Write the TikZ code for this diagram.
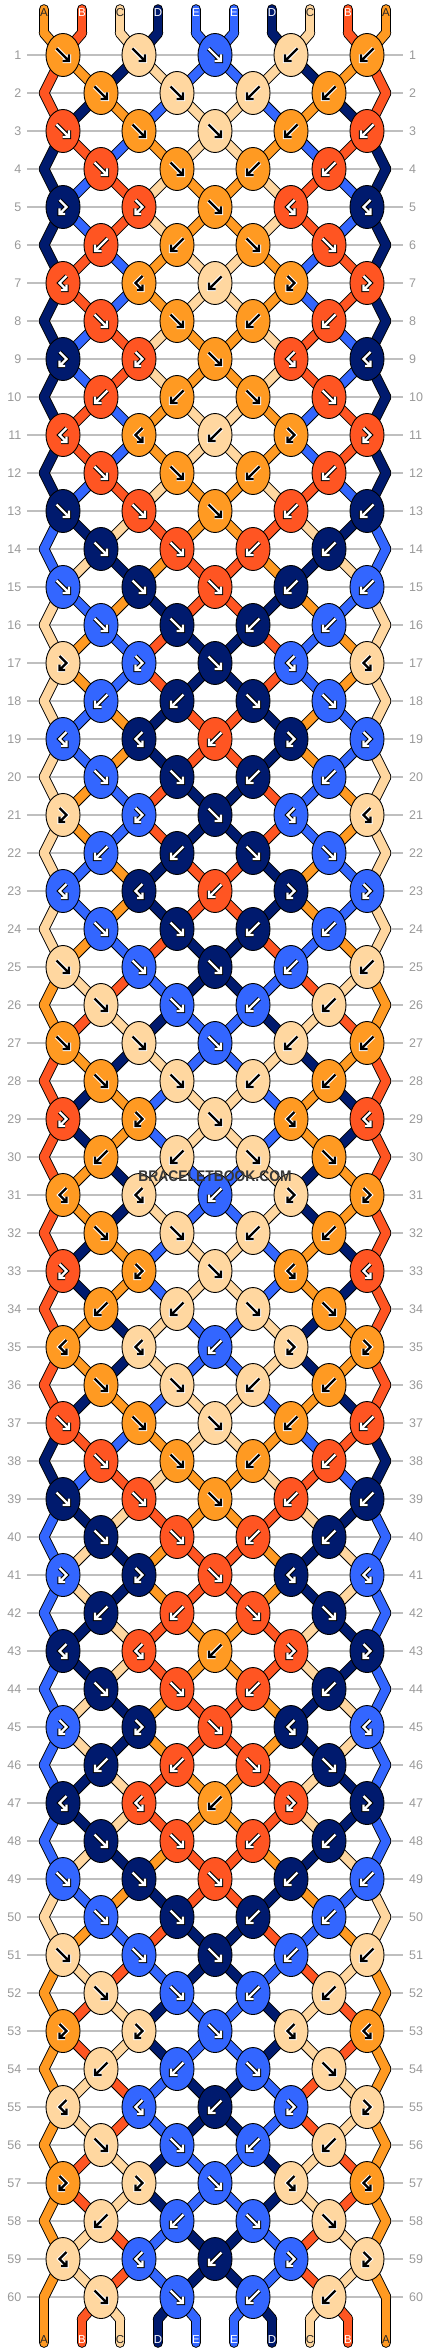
\documentclass[tikz,border=0pt]{standalone}
\usepackage{fontspec}
\setmainfont{Liberation Sans}
\usetikzlibrary{shapes.geometric}
\definecolor{cA}{HTML}{FF9A22}
\definecolor{cB}{HTML}{FF5522}
\definecolor{cC}{HTML}{FFD7A0}
\definecolor{cD}{HTML}{001A6E}
\definecolor{cE}{HTML}{3366FF}
\colorlet{arA}{black}\colorlet{aoA}{white}\colorlet{tA}{black!85}
\colorlet{arB}{white}\colorlet{aoB}{black}\colorlet{tB}{white}
\colorlet{arC}{black}\colorlet{aoC}{white}\colorlet{tC}{black!85}
\colorlet{arD}{white}\colorlet{aoD}{black}\colorlet{tD}{white}
\colorlet{arE}{white}\colorlet{aoE}{black}\colorlet{tE}{white}
% arrow glyphs: straight forward knot, forward-backward knot
\def\glyphf{(-6.5,-6.5)--(6,6) (-0.5,6)--(6,6)--(6,-0.5)}
\def\glyphr{(-3.5,-7)--(3.5,0)--(-3.5,7) (2,7)--(-3.5,7)--(-3.5,1.5)}
% left half of the strings after each row
\def\states{0/{A,B,C,D,E},1/{B,A,D,C,E},2/{B,D,A,E,C},3/{D,B,E,A,C},4/{D,E,B,C,A},5/{D,E,B,C,A},6/{D,B,E,A,C},7/{D,B,E,A,C},8/{D,E,B,C,A},9/{D,E,B,C,A},10/{D,B,E,A,C},11/{D,B,E,A,C},12/{D,E,B,C,A},13/{E,D,C,B,A},14/{E,C,D,A,B},15/{C,E,A,D,B},16/{C,A,E,B,D},17/{C,A,E,B,D},18/{C,E,A,D,B},19/{C,E,A,D,B},20/{C,A,E,B,D},21/{C,A,E,B,D},22/{C,E,A,D,B},23/{C,E,A,D,B},24/{C,A,E,B,D},25/{A,C,B,E,D},26/{A,B,C,D,E},27/{B,A,D,C,E},28/{B,D,A,E,C},29/{B,D,A,E,C},30/{B,A,D,C,E},31/{B,A,D,C,E},32/{B,D,A,E,C},33/{B,D,A,E,C},34/{B,A,D,C,E},35/{B,A,D,C,E},36/{B,D,A,E,C},37/{D,B,E,A,C},38/{D,E,B,C,A},39/{E,D,C,B,A},40/{E,C,D,A,B},41/{E,C,D,A,B},42/{E,D,C,B,A},43/{E,D,C,B,A},44/{E,C,D,A,B},45/{E,C,D,A,B},46/{E,D,C,B,A},47/{E,D,C,B,A},48/{E,C,D,A,B},49/{C,E,A,D,B},50/{C,A,E,B,D},51/{A,C,B,E,D},52/{A,B,C,D,E},53/{A,B,C,D,E},54/{A,C,B,E,D},55/{A,C,B,E,D},56/{A,B,C,D,E},57/{A,B,C,D,E},58/{A,C,B,E,D},59/{A,C,B,E,D},60/{A,B,C,D,E}}
% knots of the left half and centre: colour/glyph/direction
\def\knots{1/{A/f/1,C/f/1,E/f/1},2/{A/f/1,C/f/1},3/{B/f/1,A/f/1,C/f/1},4/{B/f/1,A/f/1},5/{D/r/1,B/r/1,A/f/1},6/{B/f/-1,A/f/-1},7/{B/r/-1,A/r/-1,C/f/-1},8/{B/f/1,A/f/1},9/{D/r/1,B/r/1,A/f/1},10/{B/f/-1,A/f/-1},11/{B/r/-1,A/r/-1,C/f/-1},12/{B/f/1,A/f/1},13/{D/f/1,B/f/1,A/f/1},14/{D/f/1,B/f/1},15/{E/f/1,D/f/1,B/f/1},16/{E/f/1,D/f/1},17/{C/r/1,E/r/1,D/f/1},18/{E/f/-1,D/f/-1},19/{E/r/-1,D/r/-1,B/f/-1},20/{E/f/1,D/f/1},21/{C/r/1,E/r/1,D/f/1},22/{E/f/-1,D/f/-1},23/{E/r/-1,D/r/-1,B/f/-1},24/{E/f/1,D/f/1},25/{C/f/1,E/f/1,D/f/1},26/{C/f/1,E/f/1},27/{A/f/1,C/f/1,E/f/1},28/{A/f/1,C/f/1},29/{B/r/1,A/r/1,C/f/1},30/{A/f/-1,C/f/-1},31/{A/r/-1,C/r/-1,E/f/-1},32/{A/f/1,C/f/1},33/{B/r/1,A/r/1,C/f/1},34/{A/f/-1,C/f/-1},35/{A/r/-1,C/r/-1,E/f/-1},36/{A/f/1,C/f/1},37/{B/f/1,A/f/1,C/f/1},38/{B/f/1,A/f/1},39/{D/f/1,B/f/1,A/f/1},40/{D/f/1,B/f/1},41/{E/r/1,D/r/1,B/f/1},42/{D/f/-1,B/f/-1},43/{D/r/-1,B/r/-1,A/f/-1},44/{D/f/1,B/f/1},45/{E/r/1,D/r/1,B/f/1},46/{D/f/-1,B/f/-1},47/{D/r/-1,B/r/-1,A/f/-1},48/{D/f/1,B/f/1},49/{E/f/1,D/f/1,B/f/1},50/{E/f/1,D/f/1},51/{C/f/1,E/f/1,D/f/1},52/{C/f/1,E/f/1},53/{A/r/1,C/r/1,E/f/1},54/{C/f/-1,E/f/-1},55/{C/r/-1,E/r/-1,D/f/-1},56/{C/f/1,E/f/1},57/{A/r/1,C/r/1,E/f/1},58/{C/f/-1,E/f/-1},59/{C/r/-1,E/r/-1,D/f/-1},60/{C/f/1,E/f/1}}
\tikzset{
  knot/.style={ellipse,draw=black,line width=.9pt,minimum width=34pt,minimum height=43pt,inner sep=0pt},
  glyphrim/.style={line width=4.4pt,line cap=square,line join=miter},
  glyphline/.style={line width=2.3pt,line join=miter},
  rowno/.style={text=gray!80,font=\fontsize{12.5}{14}\selectfont,inner sep=0pt},
  strandlbl/.style={font=\fontsize{11.5}{13}\selectfont,inner sep=0pt}
}
\begin{document}
\begin{tikzpicture}[x=1pt,y=-1pt]
\useasboundingbox (0,0) rectangle (430,2352);
\foreach \r in {1,...,60}{\pgfmathsetmacro\y{55+38*(\r-1)}
\draw[gray!50,line width=1.1pt] (27,\y)--(403,\y);
\node[rowno,anchor=east] (nl\r) at (21.5,\y) {\r};\node[rowno,anchor=west] (nr\r) at (409,\y) {\r};}
% points of the strings
\foreach \p in {1,...,10}{\pgfmathsetmacro\x{44+38*(\p-1)}
\coordinate (t-\p) at (\x,9.5);\coordinate (s0-\p) at (\x,33);\coordinate (s61-\p) at (\x,2319);\coordinate (u-\p) at (\x,2342.5);
\foreach \r in {1,...,60}{\pgfmathsetmacro\y{55+38*(\r-1)}
\ifodd\r\relax\pgfmathsetmacro\xx{63+76*floor((\p-1)/2)}\else
\ifnum\p=1\relax\def\xx{44}\else\ifnum\p=10\relax\def\xx{386}\else\pgfmathsetmacro\xx{101+76*floor((\p-2)/2)}\fi\fi\fi
\coordinate (s\r-\p) at (\xx,\y);}}
% strings: black rim first, then colour
\foreach \w/\ps in {10.6pt/1,8.8pt/0}{
\foreach \c [count=\p] in {A,B,C,D,E}{\pgfmathtruncatemacro\q{11-\p}
\ifnum\ps=1\relax\def\col{black}\else\def\col{c\c}\fi
\draw[line width=\w,line cap=round,draw=\col] (t-\p)--(s0-\p) (t-\q)--(s0-\q) (s61-\p)--(u-\p) (s61-\q)--(u-\q);}
\foreach \r/\st in \states{\pgfmathtruncatemacro\rr{\r+1}
\foreach \c [count=\p] in \st{\pgfmathtruncatemacro\q{11-\p}
\ifnum\ps=1\relax\def\col{black}\else\def\col{c\c}\fi
\draw[line width=\w,line cap=round,draw=\col] (s\r-\p)--(s\rr-\p) (s\r-\q)--(s\rr-\q);}}}
% knots
\foreach \r/\kn in \knots{\pgfmathsetmacro\y{55+38*(\r-1)}
\foreach \c/\g/\sg [count=\k] in \kn{
\ifodd\r\relax\pgfmathsetmacro\x{63+76*(\k-1)}\pgfmathtruncatemacro\kk{6-\k}\else\pgfmathsetmacro\x{101+76*(\k-1)}\pgfmathtruncatemacro\kk{5-\k}\fi
\expandafter\let\expandafter\gl\csname glyph\g\endcsname
\node[knot,fill=c\c] (k\r-\k) at (\x,\y) {};
\begin{scope}[shift={(k\r-\k)},xscale=\sg]\draw[glyphrim,draw=ao\c] \gl;\draw[glyphline,draw=ar\c] \gl;\end{scope}
\ifdim\x pt<200pt\pgfmathsetmacro\xm{430-\x}\pgfmathsetmacro\sm{0-(\sg)}
\node[knot,fill=c\c] (k\r-\kk) at (\xm,\y) {};
\begin{scope}[shift={(k\r-\kk)},xscale=\sm]\draw[glyphrim,draw=ao\c] \gl;\draw[glyphline,draw=ar\c] \gl;\end{scope}\fi}}
% string letters
\foreach \l [count=\p] in {A,B,C,D,E,E,D,C,B,A}{\pgfmathsetmacro\x{44+38*(\p-1)}
\node[strandlbl,text=t\l] (top-\p) at (\x,13) {\l};\node[strandlbl,text=t\l] (bot-\p) at (\x,2340) {\l};}
\node[font=\bfseries\fontsize{15.4}{17}\selectfont,text=black!78,xscale=.9,inner sep=0pt] (mark) at (215,1176) {BRACELETBOOK.COM};
\end{tikzpicture}
\end{document}
